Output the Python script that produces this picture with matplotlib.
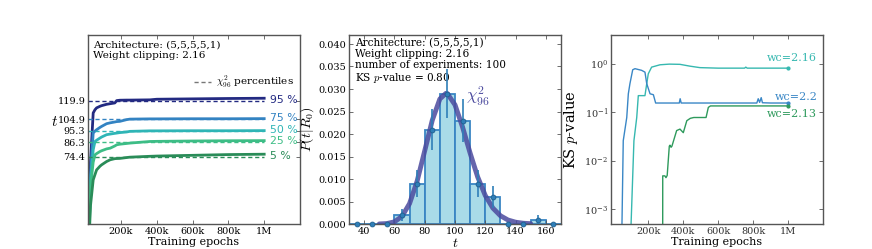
import matplotlib
matplotlib.use("Agg")
import matplotlib.pyplot as plt
from matplotlib.lines import Line2D
import numpy as np

plt.rcParams['font.family'] = ['DejaVu Serif']
plt.rcParams['mathtext.fontset'] = 'cm'
plt.rcParams['font.size'] = 7.5

# ---------------- left panel data ----------------
left_epochs_k = [20, 30, 45, 55, 64, 83, 92, 120, 140, 166, 176, 194, 232, 250, 362, 400, 600, 800, 1000]
p95 = [0, 70, 109.9, 112.5, 114, 115.3, 115.8, 116.9, 117.4, 118, 119.9, 120.2, 120.3, 120.3, 120.5, 121, 121.3, 121.6, 121.8]
p75 = [0, 60, 93.6, 95.2, 96.3, 98.2, 99, 101.2, 101.9, 102.6, 102.9, 103.1, 104.5, 104.9, 105.1, 105.1, 105.2, 105.2, 105.3]
p50 = [0, 55, 80, 86.8, 87.8, 89.6, 90.4, 92.3, 92.8, 93.4, 93.6, 94.0, 94.5, 95.0, 95.4, 95.4, 95.5, 95.5, 95.6]
p25 = [0, 50, 70, 76, 77, 78.7, 79.3, 80.8, 81.4, 83.2, 84.1, 84.6, 85.2, 85.5, 86.8, 86.9, 87.2, 87.4, 87.5]
p05 = [0, 35, 55.7, 60, 63.8, 66.8, 67.9, 70.6, 72, 72.9, 73, 73.1, 73.8, 74.1, 74.8, 75, 75.6, 76.2, 76.5]
chi2_percentiles = [119.9, 104.9, 95.3, 86.3, 74.4]
percent_labels = ['95 %', '75 %', '50 %', '25 %', '5 %']
percent_colors = ['#232a82', '#3383c2', '#2fb5b6', '#3dbd86', '#2a8c58']

# ---------------- middle panel data ----------------
bin_edges = [30, 40, 50, 60, 70, 80, 90, 100, 110, 120, 130, 140, 150, 160, 170]
hist_density = [0, 0, 0, 0.002, 0.009, 0.021, 0.029, 0.023, 0.009, 0.006, 0, 0, 0.001, 0]
hist_err = [0, 0, 0, 0.0014, 0.003, 0.0046, 0.0054, 0.0048, 0.003, 0.0024, 0, 0, 0.001, 0]
chi2_t = [50, 55, 60, 65, 70, 75, 80, 85, 90, 94, 95, 100, 105, 110, 115, 120, 125, 130, 135, 140, 145, 150]
chi2_pdf = [0.0000135, 0.0000981, 0.000481, 0.001699, 0.004539, 0.009540, 0.016261, 0.023062,
            0.027786, 0.029030, 0.028953, 0.026482, 0.021530, 0.015738, 0.010435, 0.006331,
            0.003541, 0.001836, 0.000888, 0.000403, 0.000172, 0.0000695]

# ---------------- right panel data ----------------
wc22_k = [40, 48, 57, 77, 86, 95, 111, 124, 162, 181, 191, 210, 229, 242, 300, 377, 382, 388, 500, 700, 820, 828, 836, 845, 852, 900, 1000]
wc22_p = [1e-5, 2e-4, 0.026, 0.078, 0.24, 0.385, 0.75, 0.79, 0.73, 0.67, 0.39, 0.24, 0.23, 0.155, 0.155, 0.155, 0.19, 0.155, 0.155, 0.155, 0.155, 0.19, 0.16, 0.2, 0.157, 0.155, 0.155]
wc216_k = [85, 95, 118, 134, 143, 181, 191, 200, 219, 267, 320, 381, 438, 495, 600, 750, 757, 765, 900, 1000]
wc216_p = [1e-5, 1e-4, 0.026, 0.078, 0.22, 0.22, 0.385, 0.62, 0.85, 0.95, 0.98, 0.97, 0.89, 0.83, 0.81, 0.81, 0.85, 0.81, 0.81, 0.81]
wc213_k = [282, 282.5, 295, 301, 308, 320, 324, 330, 335, 362, 381, 400, 420, 440, 460, 530, 543, 555, 700, 1000]
wc213_p = [1e-5, 0.0049, 0.0049, 0.0045, 0.005, 0.020, 0.021, 0.019, 0.020, 0.042, 0.045, 0.038, 0.067, 0.075, 0.078, 0.078, 0.126, 0.135, 0.135, 0.135]
wc_labels = ['wc=2.16', 'wc=2.2', 'wc=2.13']
wc_colors = ['#36b8b0', '#3a87c6', '#2e9a5c']

xticks_k = [200, 400, 600, 800, 1000]
xtick_labels = ['200k', '400k', '600k', '800k', '1M']

fig = plt.figure(figsize=(8.72, 2.49), dpi=100)
axL = fig.add_axes([88/872, 25/249, 212/872, 189/249])
axM = fig.add_axes([349/872, 25/249, 212/872, 189/249])
axR = fig.add_axes([611/872, 25/249, 212/872, 189/249])

for ax in (axL, axM, axR):
    for s in ax.spines.values():
        s.set_color('#555555')
        s.set_linewidth(1.0)
    ax.tick_params(direction='in', top=True, right=True, length=3, width=0.6,
                   color='#555555', labelsize=7, pad=2)
axR.tick_params(labelcolor='#333333')

# ---- left ----
ep = np.array(left_epochs_k) * 1000
curves = [p95, p75, p50, p25, p05]
for vals, q, lab, col in zip(curves, chi2_percentiles, percent_labels, percent_colors):
    axL.plot(ep, vals, color=col, lw=2.0, solid_joinstyle='round')
    axL.plot([16000, 1000000], [q, q], ls='--', color=col, lw=1.0, dashes=(3, 2))
    axL.text(1030000, q + 0.8, lab, color=col, fontsize=7.8, va='center', ha='left',
             family='DejaVu Sans')
axL.set_xlim(16000, 1200000)
axL.set_ylim(20, 173)
axL.set_yticks(chi2_percentiles)
axL.set_yticklabels(['%.1f' % v for v in chi2_percentiles])
axL.set_xticks(np.array(xticks_k) * 1000)
axL.set_xticklabels(xtick_labels)
axL.set_xlabel('Training epochs', fontsize=8, labelpad=1)
axL.set_ylabel('$t$', fontsize=11, rotation=0)
axL.yaxis.set_label_coords(-0.156, 0.5)
axL.text(0.025, 0.97, 'Architecture: (5,5,5,5,1)\nWeight clipping: 2.16', transform=axL.transAxes,
         va='top', ha='left', fontsize=7.5, linespacing=1.15)
leg_handle = Line2D([], [], ls='--', color='#777777', lw=1.0, dashes=(3, 2))
axL.legend([leg_handle], [r'$\chi^2_{96}$ percentiles'], loc='upper right',
           bbox_to_anchor=(1.0, 0.83), frameon=False, fontsize=7.5, handlelength=1.6,
           handletextpad=0.5, borderaxespad=0.2)

# ---- middle ----
centers = [(a + b) / 2 for a, b in zip(bin_edges[:-1], bin_edges[1:])]
axM.bar(bin_edges[:-1], hist_density, width=10, align='edge', color='#a9dbe8',
        edgecolor='#3a86c4', linewidth=1.3)
axM.plot(chi2_t, chi2_pdf, color='#4b4a9e', lw=3.5, alpha=0.85, solid_capstyle='round')
axM.errorbar(centers, hist_density, yerr=hist_err, fmt='o', color='#2f7fb8', ms=3.5,
             mec='#1f5f8f', mew=0.6, elinewidth=1.2, capsize=0, clip_on=False, zorder=5)
axM.text(107.5, 0.0283, r'$\chi^2_{96}$', color='#4b4a9e', fontsize=12, ha='left', va='center')
axM.set_xlim(30, 170)
axM.set_ylim(0, 0.042)
axM.set_xticks([40, 60, 80, 100, 120, 140, 160])
axM.set_yticks([0.0, 0.005, 0.01, 0.015, 0.02, 0.025, 0.03, 0.035, 0.04])
axM.set_yticklabels(['%.3f' % v for v in [0.0, 0.005, 0.01, 0.015, 0.02, 0.025, 0.03, 0.035, 0.04]])
axM.set_xlabel('$t$', fontsize=10, labelpad=0)
axM.set_ylabel(r'$P(t|R_0)$', fontsize=10, labelpad=2)
axM.text(0.03, 0.985, 'Architecture: (5,5,5,5,1)\nWeight clipping: 2.16\nnumber of experiments: 100\nKS $p$-value = 0.80',
         transform=axM.transAxes, va='top', ha='left', fontsize=7.6, linespacing=1.12)

# ---- right ----
for k, p, col in [(wc216_k, wc216_p, wc_colors[0]), (wc22_k, wc22_p, wc_colors[1]), (wc213_k, wc213_p, wc_colors[2])]:
    x = np.array(k) * 1000
    axR.plot(x, p, color=col, lw=1.0)
    axR.plot([x[-1]], [p[-1]], 'o', color=col, ms=2)
axR.set_yscale('log')
axR.set_xlim(-13000, 1198000)
axR.set_ylim(5e-4, 3.9)
axR.set_xticks(np.array(xticks_k) * 1000)
axR.set_xticklabels(xtick_labels)
axR.set_yticks([1e-3, 1e-2, 1e-1, 1e0])
axR.minorticks_off()
axR.set_xlabel('Training epochs', fontsize=8, labelpad=1)
axR.set_ylabel('KS $p$-value', fontsize=10.5, labelpad=3)
axR.text(1165000, 1.03, wc_labels[0], color=wc_colors[0], fontsize=8, ha='right', va='bottom')
axR.text(1165000, 0.165, wc_labels[1], color=wc_colors[1], fontsize=8, ha='right', va='bottom')
axR.text(1165000, 0.118, wc_labels[2], color=wc_colors[2], fontsize=8, ha='right', va='top')

fig.savefig('out.png', dpi=100)
